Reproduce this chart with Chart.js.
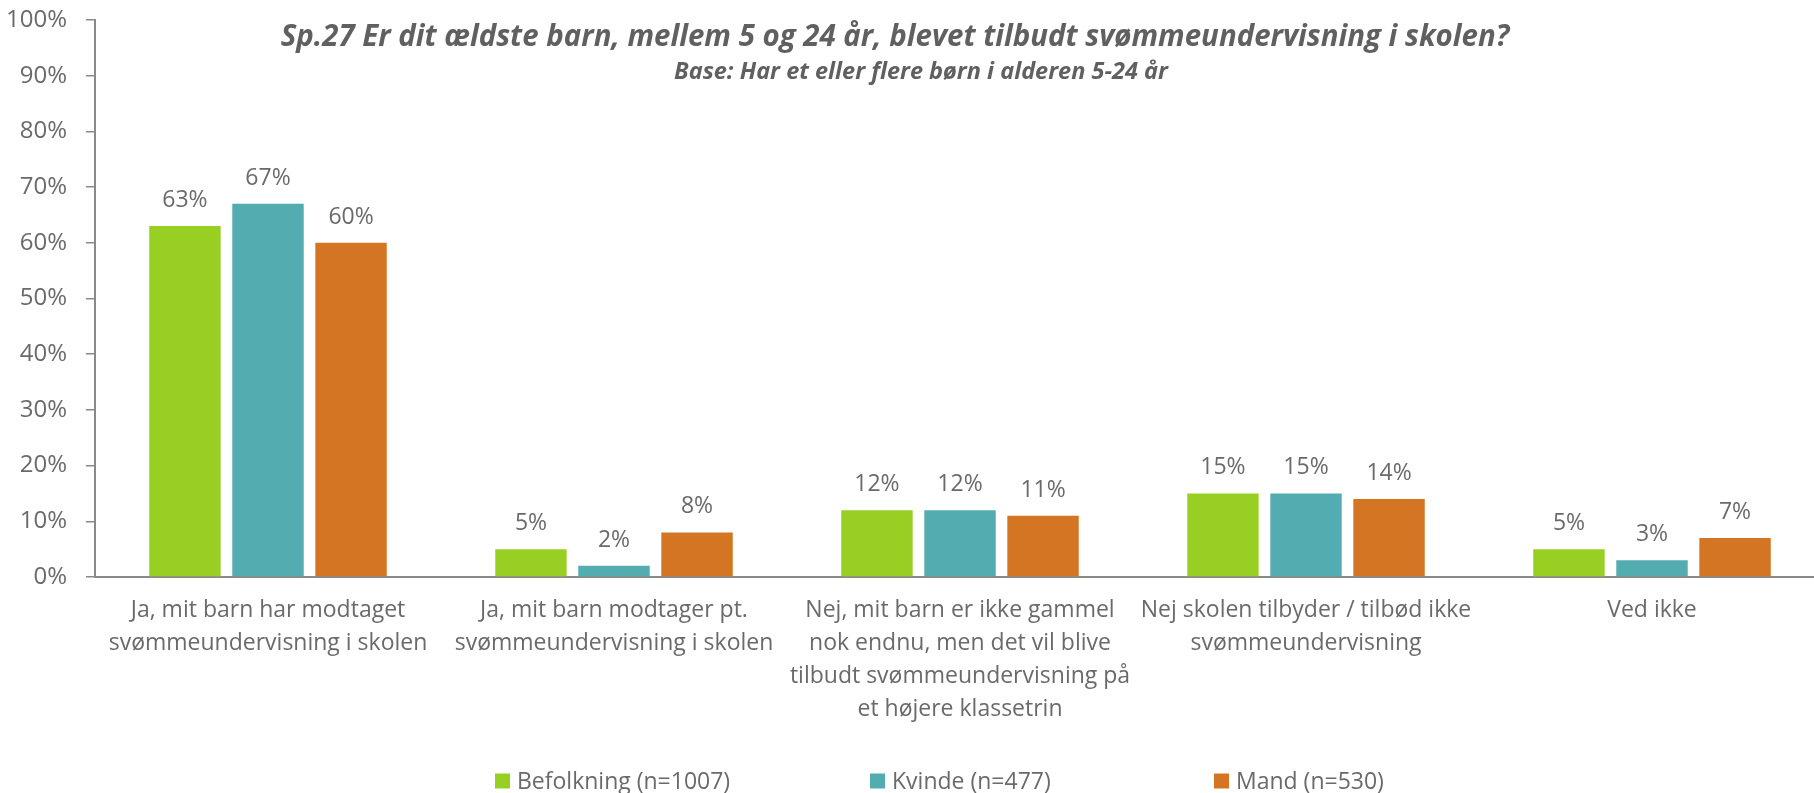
<!DOCTYPE html>
<html>
<head>
<meta charset="utf-8">
<script src="https://cdn.jsdelivr.net/npm/chart.js@4/dist/chart.umd.min.js"></script>
<style>
html,body{margin:0;padding:0;background:#fff;overflow:hidden;}
#wrap{width:1814px;height:793px;overflow:hidden;}
</style>
</head>
<body>
<div id="wrap"><canvas id="c" width="1825" height="793"></canvas></div>
<script>
const categories = [
  ["Ja, mit barn har modtaget", "svømmeundervisning i skolen"],
  ["Ja, mit barn modtager pt.", "svømmeundervisning i skolen"],
  ["Nej, mit barn er ikke gammel", "nok endnu, men det vil blive", "tilbudt svømmeundervisning på", "et højere klassetrin"],
  ["Nej skolen tilbyder / tilbød ikke", "svømmeundervisning"],
  ["Ved ikke"]
];
const seriesNames = ["Befolkning (n=1007)", "Kvinde (n=477)", "Mand (n=530)"];
const befolkning = [63, 5, 12, 15, 5];
const kvinde = [67, 2, 12, 15, 3];
const mand = [60, 8, 11, 14, 7];
const yTicks = [0, 10, 20, 30, 40, 50, 60, 70, 80, 90, 100];
const titleText = "Sp.27 Er dit ældste barn, mellem 5 og 24 år, blevet tilbudt svømmeundervisning i skolen?";
const subtitleText = "Base: Har et eller flere børn i alderen 5-24 år";

const colors = ["#97D023", "#52ACB0", "#D37522"];
const textGray = "#6A6A6A";
const FONT = "'Open Sans', sans-serif";
const PLOT_TOP = 20;

const topPlugin = {
  id: 'fixTop',
  afterLayout(chart) {
    const y = chart.scales.y;
    y.top = PLOT_TOP;
    y.height = y.bottom - PLOT_TOP;
    y.configure();
    chart.chartArea.top = PLOT_TOP;
    chart.chartArea.height = chart.chartArea.bottom - PLOT_TOP;
  }
};

const labelPlugin = {
  id: 'valueLabels',
  afterDatasetsDraw(chart) {
    const ctx = chart.ctx;
    ctx.save();
    ctx.font = "23px " + FONT;
    ctx.fillStyle = textGray;
    ctx.textAlign = 'center';
    ctx.textBaseline = 'alphabetic';
    chart.data.datasets.forEach((ds, i) => {
      const meta = chart.getDatasetMeta(i);
      meta.data.forEach((bar, j) => {
        ctx.fillText(ds.data[j] + '%', bar.x, bar.y - 19);
      });
    });
    ctx.restore();
  }
};

function fitFont(ctx, text, style, target) {
  ctx.font = style + " 100px " + FONT;
  const w = ctx.measureText(text).width;
  return style + " " + (100 * target / w).toFixed(2) + "px " + FONT;
}

const titlePlugin = {
  id: 'titles',
  afterDraw(chart) {
    const ctx = chart.ctx;
    ctx.save();
    ctx.fillStyle = "#606060";
    ctx.textAlign = 'center';
    ctx.textBaseline = 'middle';
    ctx.font = fitFont(ctx, titleText, "italic bold", 1229);
    ctx.fillText(titleText, 895, 38);
    ctx.font = fitFont(ctx, subtitleText, "italic bold", 494);
    ctx.fillText(subtitleText, 921, 72);
    ctx.restore();
  }
};

const legendPlugin = {
  id: 'customLegend',
  afterDraw(chart) {
    const ctx = chart.ctx;
    ctx.save();
    ctx.font = "23px " + FONT;
    ctx.textBaseline = 'middle';
    ctx.textAlign = 'left';
    const starts = [495, 870, 1214];
    const box = 15, gapText = 7, yc = 781;
    chart.data.datasets.forEach((d, i) => {
      const x = starts[i];
      ctx.fillStyle = d.backgroundColor;
      ctx.fillRect(x, yc - 7.5, box, box);
      ctx.fillStyle = textGray;
      ctx.fillText(d.label, x + box + gapText, yc + 1);
    });
    ctx.restore();
  }
};

new Chart(document.getElementById('c'), {
  type: 'bar',
  data: {
    labels: categories,
    datasets: [
      {label: seriesNames[0], data: befolkning, backgroundColor: colors[0]},
      {label: seriesNames[1], data: kvinde, backgroundColor: colors[1]},
      {label: seriesNames[2], data: mand, backgroundColor: colors[2]}
    ]
  },
  options: {
    responsive: false,
    animation: false,
    devicePixelRatio: 1,
    layout: {padding: {top: 15, right: 0, bottom: 0, left: 0}},
    datasets: {bar: {barPercentage: 0.86, categoryPercentage: 0.72}},
    plugins: {
      legend: {display: false},
      title: {display: false},
      tooltip: {enabled: false}
    },
    scales: {
      x: {
        grid: {display: false},
        border: {display: true, color: '#8A8A8A', width: 2},
        ticks: {
          color: textGray,
          font: {family: FONT, size: 23, lineHeight: '33px'},
          padding: 9,
          maxRotation: 0,
          autoSkip: false
        },
        afterFit(scale) { scale.height = 216; }
      },
      y: {
        min: 0, max: 100,
        afterBuildTicks(scale) { scale.ticks = yTicks.map(v => ({value: v})); },
        grid: {display: true, drawOnChartArea: false, drawTicks: true, tickLength: 9, color: '#8A8A8A', lineWidth: 1.5},
        border: {display: true, color: '#8A8A8A', width: 2},
        ticks: {
          color: textGray,
          font: {family: FONT, size: 24, lineHeight: 0.6},
          padding: 19,
          callback: v => v + '%'
        },
        afterFit(scale) { scale.width = 95; }
      }
    }
  },
  plugins: [topPlugin, labelPlugin, titlePlugin, legendPlugin]
});
</script>
</body>
</html>
